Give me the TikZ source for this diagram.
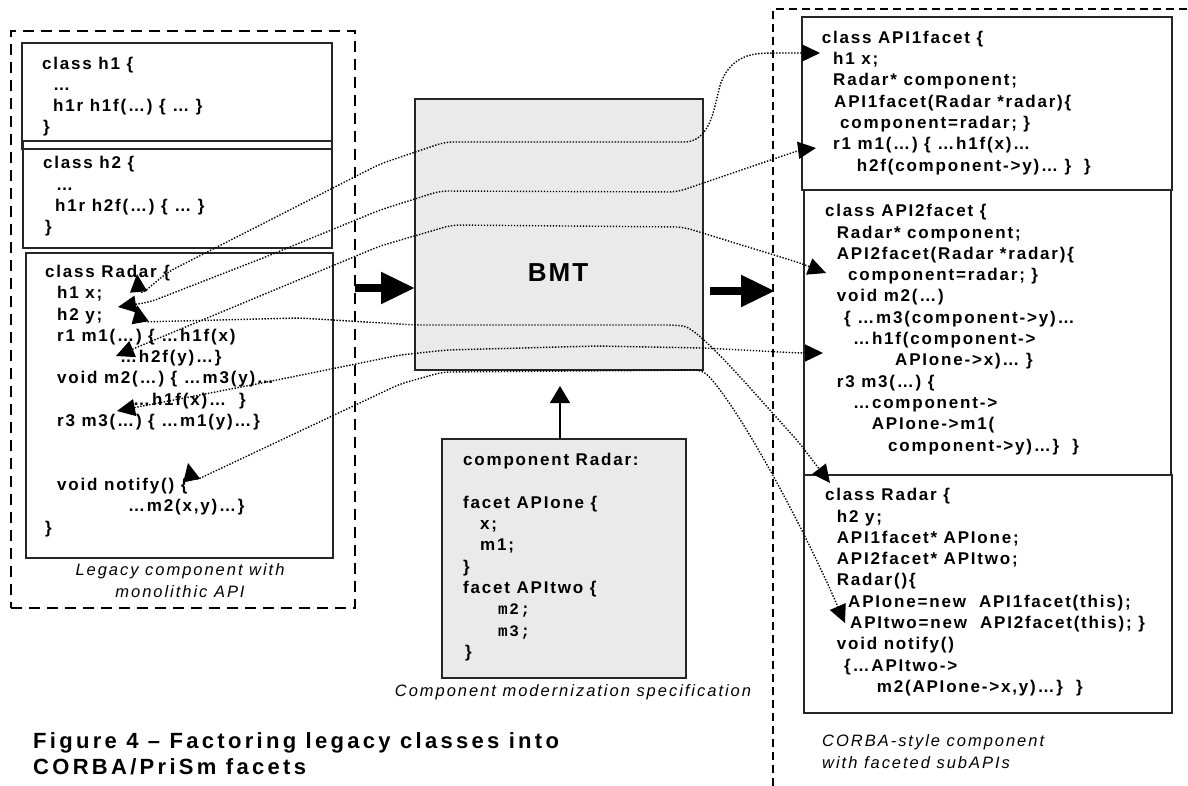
\documentclass[tikz,border=0pt]{standalone}
\usepackage{fontspec}
\usetikzlibrary{arrows.meta}
\setmainfont{Liberation Sans}
\newfontfamily\codefont{Liberation Sans}[LetterSpace=10.6]
\newfontfamily\codemono{Liberation Mono}[LetterSpace=10]
\newfontfamily\capfont{Liberation Sans}[LetterSpace=12]
\newfontfamily\titlefont{Liberation Sans}[LetterSpace=15]
\newfontfamily\bmtfont{Liberation Sans}[LetterSpace=8]
\definecolor{panelgray}{HTML}{EAEAEA}
\begin{document}
\begin{tikzpicture}[x=1pt,y=-1pt,
  frame/.style={draw=black,line width=2.2pt,dash pattern=on 11pt off 7pt},
  codebox/.style={draw=black!85,line width=1.3pt,inner sep=0pt,outer sep=0pt,anchor=north west},
  graybox/.style={codebox,fill=panelgray},
  code/.style={anchor=north west,inner sep=0pt,align=left,
    font=\codefont\bfseries\fontsize{17}{21.3}\selectfont},
  caption/.style={inner sep=0pt,font=\capfont\itshape\fontsize{16.5}{22}\selectfont},
  bigarrow/.style={line width=8pt,-{Triangle[length=34pt,width=30pt]}},
  feed/.style={line width=1.5pt,-{Triangle[length=17pt,width=20pt]}},
  dotlink/.style={line width=1.4pt,dash pattern=on 1.4pt off 1.6pt,rounded corners=8pt,
    {Triangle[length=18pt,width=17pt]}-{Triangle[length=18pt,width=17pt]}}]

\useasboundingbox (0,0) rectangle (1188,786);
\fill[white] (0,0) rectangle (1188,786);

% dashed component frames
\node[frame,inner sep=0pt,outer sep=0pt,anchor=north west,minimum width=344pt,minimum height=577pt] (legacyframe) at (11,31) {};
\coordinate (rfbottom) at (773,786);
\coordinate (rfcorner) at (773,9);
\coordinate (rfright) at (1188,9);
\draw[frame,dash pattern=on 8pt off 5pt] (rfbottom) -- (rfcorner) -- (rfright);

% legacy classes
\node[codebox,minimum width=310pt,minimum height=106pt] (h1box) at (22,43) {};
\node[codebox,minimum width=309pt,minimum height=107pt] (h2box) at (23,141) {};
\node[codebox,minimum width=307pt,minimum height=305pt] (radarbox) at (26,253) {};

\node[code] (h1text) at (42,53.9) {\strut class h1 \{\\
\strut\hspace*{11pt}…\\
\strut\hspace*{11pt}h1r h1f(…) \{ … \}\\
\strut\hspace*{1pt}\}};

\node[code] (h2text) at (43,153.6) {\strut class h2 \{\\
\strut\hspace*{13pt}…\\
\strut\hspace*{12pt}h1r h2f(…) \{ … \}\\
\strut\hspace*{2pt}\}};

\node[code] (radartext) at (45,262.3) {\strut class Radar \{\\
\strut\hspace*{12pt}h1 x;\\
\strut\hspace*{12pt}h2 y;\\
\strut\hspace*{12pt}r1 m1(…) \{ …h1f(x)\\
\strut\hspace*{75pt}…h2f(y)…\}\\
\strut\hspace*{12pt}void m2(…) \{ …m3(y)…\\
\strut\hspace*{88pt}…h1f(x)…\ \ \}\\
\strut\hspace*{12pt}r3 m3(…) \{ …m1(y)…\}\\
\strut\\
\strut\\
\strut\hspace*{12pt}void notify() \{\\
\strut\hspace*{83pt}…m2(x,y)…\}\\
\strut\}};

\node[caption,align=center] (legacycap) at (180,581) {Legacy component with\\monolithic API};

% modernization tool and its specification
\node[graybox,minimum width=288pt,minimum height=271pt] (bmt) at (415,99) {};
\node[inner sep=0pt,font=\bmtfont\bfseries\fontsize{26}{30}\selectfont] (bmtlabel) at (558,273) {BMT};

\node[graybox,minimum width=244pt,minimum height=239pt] (spec) at (442,439) {};
\node[code] (spectext) at (463,450.6) {\strut component Radar:\\
\strut\\
\strut facet APIone \{\\
\strut\hspace*{17pt}x;\\
\strut\hspace*{17pt}m1;\\
\strut\}\\
\strut facet APItwo \{\\
\strut\hspace*{35pt}{\codemono\bfseries\fontsize{16}{21.3}\selectfont m2;}\\
\strut\hspace*{35pt}{\codemono\bfseries\fontsize{16}{21.3}\selectfont m3;}\\
\strut\hspace*{2pt}\}};
\node[caption] (speccap) at (573,692) {Component modernization specification};

% faceted CORBA-style classes
\node[codebox,minimum width=370pt,minimum height=173pt] (api1box) at (802,17) {};
\node[codebox,minimum width=367pt,minimum height=285pt] (api2box) at (804,190) {};
\node[codebox,minimum width=368pt,minimum height=238pt] (radarRbox) at (804,475) {};

\node[code] (api1text) at (821.7,28.1) {\strut class API1facet \{\\
\strut\hspace*{11.3pt}h1 x;\\
\strut\hspace*{11.3pt}Radar* component;\\
\strut\hspace*{12.3pt}API1facet(Radar *radar)\{\\
\strut\hspace*{18.3pt}component=radar; \}\\
\strut\hspace*{11.3pt}r1 m1(…) \{ …h1f(x)…\\
\strut\hspace*{35pt}h2f(component->y)… \}\ \ \}};

\node[code] (api2text) at (825,201.6) {\strut class API2facet \{\\
\strut\hspace*{11.7pt}Radar* component;\\
\strut\hspace*{11.7pt}API2facet(Radar *radar)\{\\
\strut\hspace*{23pt}component=radar; \}\\
\strut\hspace*{11.7pt}void m2(…)\\
\strut\hspace*{19pt}\{ …m3(component->y)…\\
\strut\hspace*{28pt}…h1f(component->\\
\strut\hspace*{70pt}APIone->x)… \}\\
\strut\hspace*{11.7pt}r3 m3(…) \{\\
\strut\hspace*{28pt}…component->\\
\strut\hspace*{46.7pt}APIone->m1(\\
\strut\hspace*{63pt}component->y)…\}\ \ \}};

\node[code] (radarRtext) at (825,485.6) {\strut class Radar \{\\
\strut\hspace*{11.7pt}h2 y;\\
\strut\hspace*{11.7pt}API1facet* APIone;\\
\strut\hspace*{11.7pt}API2facet* APItwo;\\
\strut\hspace*{11.7pt}Radar()\{\\
\strut\hspace*{23pt}APIone=new\ \ API1facet(this);\\
\strut\hspace*{25pt}APItwo=new\ \ API2facet(this); \}\\
\strut\hspace*{11.7pt}void notify()\\
\strut\hspace*{19pt}\{…APItwo->\\
\strut\hspace*{51.7pt}m2(APIone->x,y)…\}\ \ \}};

\node[caption,anchor=north west,align=left] (corbacap) at (822,731) {\strut CORBA-style component\\\strut with faceted subAPIs};

% figure title
\node[anchor=north west,inner sep=0pt,align=left,font=\titlefont\bfseries\fontsize{22}{26.3}\selectfont] (title) at (33,730)
  {\strut Figure 4 – Factoring legacy classes into\\\strut CORBA/PriSm facets};

% main flow arrows
\coordinate (inarrow) at (355,288);
\coordinate (intip) at (415,288);
\coordinate (outarrow) at (710,291);
\coordinate (outtip) at (775,291);
\coordinate (feedtip) at (560,386);
\coordinate (feedbase) at (560,439);
\draw[bigarrow] (inarrow) -- (intip);
\draw[bigarrow] (outarrow) -- (outtip);
\draw[feed] (feedbase) -- (feedtip);

% member mappings
\coordinate (l1a) at (137,274);
\coordinate (l1b) at (820,53);
\coordinate (l2a) at (118,307);
\coordinate (l2b) at (816,148);
\coordinate (l3a) at (116,356);
\coordinate (l3b) at (826,273);
\coordinate (l4a) at (137,305);
\coordinate (l4b) at (830,483);
\coordinate (l5a) at (117,411);
\coordinate (l5b) at (823,353);
\coordinate (l6a) at (188,463);
\coordinate (l6b) at (845,623);

\draw[dotlink] (l1a) -- (139,296) -- (168,272) -- (380,164) -- (445,142) -- (676,142)
  .. controls (704,142) and (711,122) .. (717,98)
  .. controls (724,68) and (738,54) .. (772,53) -- (l1b);
\draw[dotlink] (l2a) -- (150,302) -- (263,258) -- (380,210) -- (440,191) -- (677,192)
  -- (800,150) -- (l2b);
\draw[dotlink] (l3a) -- (380,246) -- (452,225) -- (683,227) -- (800,263) -- (l3b);
\draw[dotlink] (l4a) -- (140,322) -- (300,318) -- (415,325) -- (675,325)
  .. controls (700,328) and (760,400) .. (797,440) -- (l4b);
\draw[dotlink] (l5a) -- (267,382) -- (400,355) -- (447,350) -- (597,346) -- (703,348)
  -- (800,353) -- (l5b);
\draw[dotlink] (l6a) -- (192,482) -- (400,384) -- (443,372) -- (703,370)
  .. controls (740,410) and (800,520) .. (l6b);

\end{tikzpicture}
\end{document}
